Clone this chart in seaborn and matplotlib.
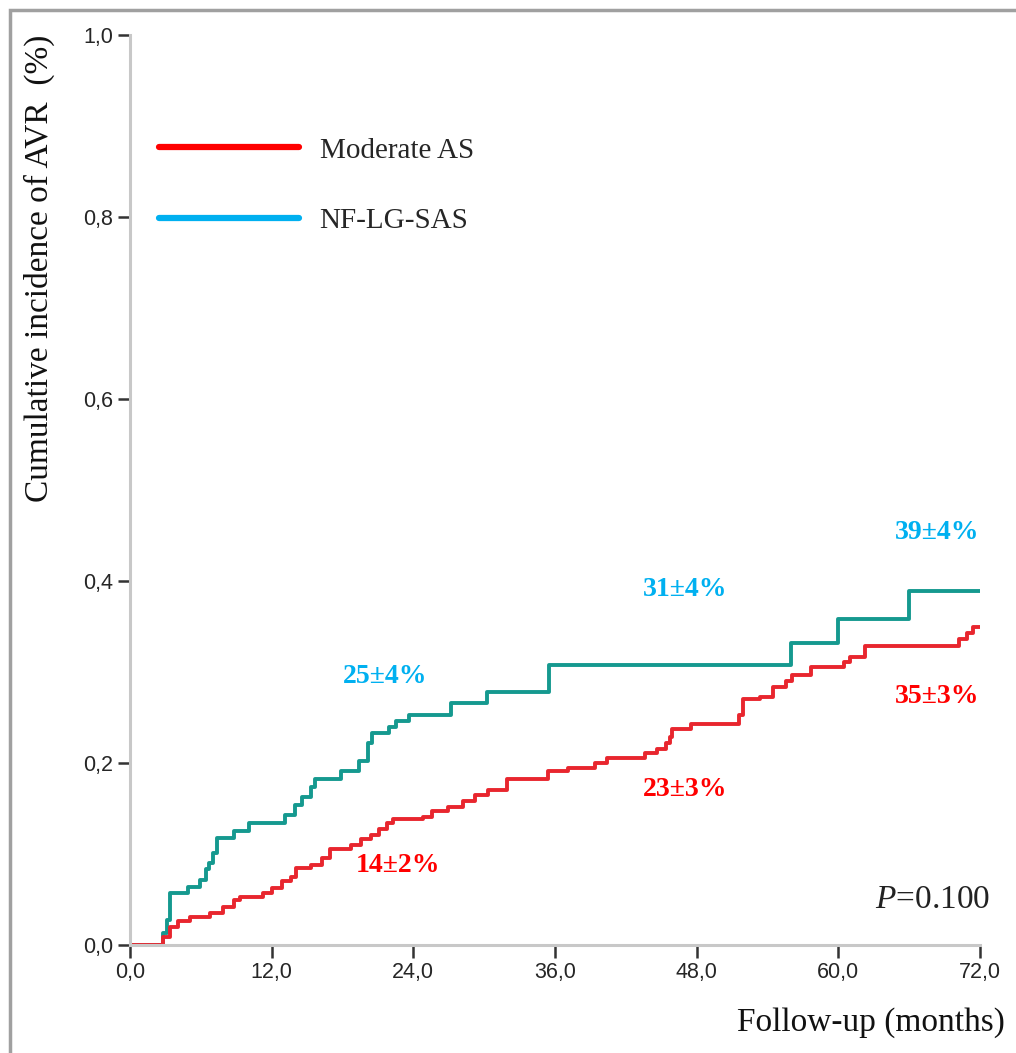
import numpy as np
import pandas as pd
import matplotlib
matplotlib.use("Agg")
import matplotlib.pyplot as plt
from matplotlib.lines import Line2D
from matplotlib.patches import Rectangle
import seaborn as sns

# Kaplan-Meier style cumulative incidence (months, fraction)
lg_months = [0.0, 2.8, 3.1, 3.4, 4.9, 5.9, 6.4, 6.7, 7.0, 7.4, 8.8, 10.1, 13.1, 14.0,
             14.6, 15.3, 15.7, 17.9, 19.4, 20.2, 20.5, 21.9, 22.5, 23.6, 27.2, 30.2,
             35.5, 56.0, 60.0, 66.0, 72.0]
lg_incidence = [0.0, 0.013, 0.028, 0.057, 0.064, 0.071, 0.083, 0.090, 0.101, 0.118,
                0.125, 0.134, 0.143, 0.154, 0.163, 0.174, 0.182, 0.191, 0.202, 0.222,
                0.233, 0.240, 0.246, 0.253, 0.266, 0.278, 0.308, 0.332, 0.358, 0.389,
                0.389]

mod_months = [0.0, 2.8, 3.4, 4.1, 5.1, 6.8, 7.9, 8.8, 9.3, 11.3, 12.0, 12.9, 13.6, 14.1,
              15.3, 16.3, 16.9, 18.7, 19.6, 20.4, 21.1, 21.8, 22.3, 24.8, 25.6, 26.9,
              28.2, 29.2, 30.3, 31.9, 35.4, 37.1, 39.4, 40.4, 43.6, 44.6, 45.4, 45.7,
              45.9, 47.5, 51.6, 51.9, 53.4, 54.5, 55.6, 56.1, 57.7, 60.5, 61.0, 62.3,
              70.2, 70.9, 71.4, 72.0]
mod_incidence = [0.0, 0.009, 0.020, 0.026, 0.031, 0.035, 0.042, 0.049, 0.053, 0.057,
                 0.063, 0.070, 0.075, 0.085, 0.088, 0.096, 0.105, 0.110, 0.116, 0.121,
                 0.127, 0.134, 0.138, 0.141, 0.147, 0.152, 0.158, 0.165, 0.170, 0.182,
                 0.191, 0.195, 0.200, 0.206, 0.211, 0.215, 0.222, 0.229, 0.237, 0.243,
                 0.253, 0.270, 0.273, 0.283, 0.290, 0.297, 0.305, 0.311, 0.316, 0.329,
                 0.336, 0.343, 0.350, 0.350]

groups = ["Moderate AS", "NF-LG-SAS"]
legend_colors = ["#FF0000", "#00B0F0"]
curve_colors = {"Moderate AS": "#E8262E", "NF-LG-SAS": "#15998F"}

# label text, x (months), y, group
labels_txt = ["25\u00b14%", "14\u00b12%", "31\u00b14%", "23\u00b13%", "39\u00b14%", "35\u00b13%"]
labels_x = [21.6, 22.7, 47.0, 47.0, 68.4, 68.4]
labels_y = [0.295, 0.087, 0.391, 0.171, 0.453, 0.273]
labels_grp = [1, 0, 1, 0, 1, 0]

xticks = [0, 12, 24, 36, 48, 60, 72]
yticks = [0.0, 0.2, 0.4, 0.6, 0.8, 1.0]

df = pd.concat([
    pd.DataFrame({"month": mod_months, "inc": mod_incidence, "group": "Moderate AS"}),
    pd.DataFrame({"month": lg_months, "inc": lg_incidence, "group": "NF-LG-SAS"}),
])

sns.set_style("ticks")
plt.rcParams["font.family"] = ["Liberation Serif", "DejaVu Serif"]
plt.rcParams["mathtext.fontset"] = "custom"
plt.rcParams["mathtext.it"] = "Liberation Serif:italic"
plt.rcParams["mathtext.rm"] = "Liberation Serif"

fig = plt.figure(figsize=(10.16, 10.53), dpi=100)
ax = fig.add_axes([130 / 1016, 1 - 945 / 1053, 850 / 1016, 910 / 1053])

for g in ["NF-LG-SAS", "Moderate AS"]:
    sns.lineplot(data=df[df.group == g], x="month", y="inc", color=curve_colors[g],
                 lw=2.8, drawstyle="steps-post", estimator=None, ax=ax, legend=False)

ax.set_xlim(0, 72)
ax.set_ylim(0, 1.0)
ax.set_xticks(xticks)
ax.set_yticks(yticks)
ax.set_xticklabels([f"{v:.1f}".replace(".", ",") for v in xticks])
ax.set_yticklabels([f"{v:.1f}".replace(".", ",") for v in yticks])
for lab in ax.get_xticklabels() + ax.get_yticklabels():
    lab.set_family("Liberation Sans")
    lab.set_fontsize(15.5)
    lab.set_color("#262626")
ax.tick_params(direction="out", length=9, width=1.8, color="#333333", pad=3)

sns.despine(ax=ax)
for side in ["left", "bottom"]:
    ax.spines[side].set_color("#C8C8C8")
    ax.spines[side].set_linewidth(2.2)

ax.set_xlabel("")
ax.set_ylabel("Cumulative incidence of AVR  (%)", fontsize=24, color="#111111",
              labelpad=20, loc="top")
fig.text(1005 / 1016, 1 - 1023 / 1053, "Follow-up (months)", ha="right", va="center",
         fontsize=24, color="#111111")

for t, x, y, g in zip(labels_txt, labels_x, labels_y, labels_grp):
    ax.text(x, y, t, ha="center", va="center", fontsize=20, fontweight="bold",
            color=legend_colors[g])

ax.text(72.9, 0.05, r"$\mathit{P}$=0.100", ha="right", va="center", fontsize=24,
        color="#222222")

handles = [Line2D([], [], color=c, lw=4.5) for c in legend_colors]
ax.legend(handles, groups, loc="upper left", bbox_to_anchor=(0.0035, 0.9166), frameon=False,
          fontsize=21, handlelength=4.8, handletextpad=0.7, labelspacing=1.5)

fig.patches.append(Rectangle((10 / 1016, -0.1), 1.2, 1.1 - 10 / 1053, transform=fig.transFigure,
                             fill=False, edgecolor="#A0A0A0", lw=2.5))

fig.savefig("out.png", dpi=100)
